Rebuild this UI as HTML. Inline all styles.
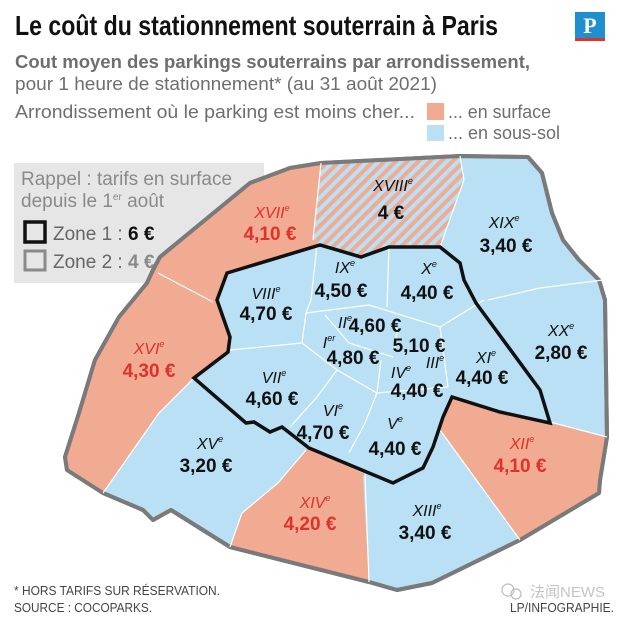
<!DOCTYPE html>
<html><head><meta charset="utf-8">
<style>
html,body{margin:0;padding:0;background:#fff;}
svg{display:block;}
.t{font-family:"Liberation Sans",sans-serif;}
.n{font-family:"Liberation Sans Narrow","Liberation Sans",sans-serif;font-style:italic;font-size:16px;fill:#111;}
.p{font-family:"Liberation Sans Narrow","Liberation Sans",sans-serif;font-weight:bold;font-size:19px;fill:#111;}
.r{fill:#e0312b;}
</style></head>
<body>
<svg width="622" height="620" viewBox="0 0 622 620" xmlns="http://www.w3.org/2000/svg">
<defs>
<pattern id="hatch" width="8" height="8" patternUnits="userSpaceOnUse" patternTransform="rotate(45)">
<rect width="8" height="8" fill="#b9e0f4"/><rect width="4" height="8" fill="#f0ab92"/>
</pattern>
</defs>
<rect width="622" height="620" fill="#fff"/>
<text x="15" y="35" font-family="'Liberation Sans Narrow','Liberation Sans',sans-serif" font-weight="bold" font-size="28" fill="#111" textLength="483" lengthAdjust="spacingAndGlyphs">Le coût du stationnement souterrain à Paris</text>
<g>
<rect x="575" y="12" width="30" height="26" fill="#1f8fcf"/>
<rect x="575" y="38" width="30" height="3" fill="#e0312b"/>
<text x="590" y="33" text-anchor="middle" font-family="'Liberation Serif',serif" font-weight="bold" font-size="22" fill="#fff">P</text>
</g>
<text class="t" x="15" y="68" font-weight="bold" font-size="18" fill="#6e6e6e" textLength="515" lengthAdjust="spacingAndGlyphs">Cout moyen des parkings souterrains par arrondissement,</text>
<text class="t" x="15" y="90" font-size="18" fill="#6e6e6e" textLength="422" lengthAdjust="spacingAndGlyphs">pour 1 heure de stationnement* (au 31 août 2021)</text>
<text class="t" x="15" y="118" font-size="18" fill="#6e6e6e" textLength="400" lengthAdjust="spacingAndGlyphs">Arrondissement où le parking est moins cher...</text>
<g>
<rect x="427" y="103" width="17" height="17" fill="#f0ab92"/>
<text class="t" x="448" y="118" font-size="18" fill="#6e6e6e" textLength="103" lengthAdjust="spacingAndGlyphs">... en surface</text>
</g>
<g>
<rect x="427" y="125" width="17" height="16" fill="#b9e0f4"/>
<text class="t" x="448" y="139" font-size="18" fill="#6e6e6e" textLength="112" lengthAdjust="spacingAndGlyphs">... en sous-sol</text>
</g>

<rect x="14" y="163" width="250" height="120" fill="#e6e6e6"/>

<polygon fill="#b9e0f4" stroke="#7a7a7a" stroke-width="4" stroke-linejoin="round"
points="147,283 153,270 160,257 233,197 250,183 290,168 321,163 460,156 528,157 542,173 552,213 563,240 579,260 599,280 605,300 607,437 600,480 599,493 520,540 432,583 397,590 369,582 230,547 171,510 153,520 143,510 103,493 67,470 65,457 79,413 95,360 119,317"/>
<polygon fill="#f0ab92" points="147,283 153,270 160,257 233,197 250,183 290,168 321,163 313,240 320,245 227,273 217,300 158,273"/>
<polygon fill="#f0ab92" points="147,283 158,273 217,300 230,337 228,352 194,378 159,413 103,493 67,470 65,457 79,413 95,360 119,317"/>
<polygon fill="#f0ab92" points="230,547 242,513 278,483 306,450 309,448 365,474 363,477 369,582"/>
<polygon fill="#f0ab92" points="452,397 500,412 550,422 607,437 600,480 599,493 520,540 440,430 443,417"/>
<polygon fill="url(#hatch)" points="321,163 460,156 464,180 440,247 389,247 361,257 320,245 313,240"/>
<polygon fill="none" stroke="#7a7a7a" stroke-width="4" stroke-linejoin="round"
points="147,283 153,270 160,257 233,197 250,183 290,168 321,163 460,156 528,157 542,173 552,213 563,240 579,260 599,280 605,300 607,437 600,480 599,493 520,540 432,583 397,590 369,582 230,547 171,510 153,520 143,510 103,493 67,470 65,457 79,413 95,360 119,317"/>

<g fill="none" stroke="#fff" stroke-width="1.2">
<polyline points="321,163 313,240"/>
<polyline points="460,156 464,180 440,247"/>
<polyline points="158,273 213,302"/>
<polyline points="194,378 159,413 103,493"/>
<polyline points="306,450 278,483 242,513 230,547"/>
<polyline points="365,474 369,582"/>
<polyline points="440,430 520,540"/>
<polyline points="550,422 607,437"/>
<polyline points="488,300 540,288 603,280"/>
<polyline points="317,245 311,300 306,313 302,343"/>
<polyline points="389,247 387,307"/>
<polyline points="306,313 369,305 440,327 484,300"/>
<polyline points="325,315 349,343 393,357"/>
<polyline points="397,328 395,352"/>
<polyline points="440,327 448,387"/>
<polyline points="230,350 302,343 337,370 377,393 448,387"/>
<polyline points="337,370 317,397 290,427"/>
<polyline points="377,393 365,423 349,453"/>
<polyline points="381,360 377,393"/>
</g>

<polygon fill="none" stroke="#111" stroke-width="3.5" stroke-linejoin="miter"
points="227,273 320,245 361,257 389,247 440,247 460,263 464,280 476,303 540,390 550,423 500,412 452,397 443,417 433,447 423,468 393,483 369,473 309,448 282,427 270,432 254,422 246,423 194,378 228,352 230,337 217,300"/>

<text class="t" x="21" y="185" font-size="19" fill="#8a8a8a" textLength="211" lengthAdjust="spacingAndGlyphs">Rappel : tarifs en surface</text>
<text class="t" x="21" y="207" font-size="19" fill="#8a8a8a">depuis le 1<tspan font-size="10" dy="-7">er</tspan><tspan dy="7"> août</tspan></text>
<g>
<rect x="25" y="222" width="20" height="20" fill="none" stroke="#111" stroke-width="3.5"/>
<text class="t" x="53" y="240" font-size="19" fill="#666">Zone 1 : <tspan font-weight="bold" fill="#111">6 €</tspan></text>
</g>
<g>
<rect x="25" y="251" width="20" height="19" fill="none" stroke="#8a8a8a" stroke-width="3"/>
<text class="t" x="53" y="268" font-size="19" fill="#666">Zone 2 : <tspan font-weight="bold" fill="#8a8a8a">4 €</tspan></text>
</g>

<g text-anchor="middle">
<text class="n" x="393" y="191">XVIII<tspan font-size="9" dy="-7">e</tspan></text><text class="p" x="391" y="219">4 €</text>
<text class="n r" x="272" y="218">XVII<tspan font-size="9" dy="-7">e</tspan></text><text class="p r" x="270" y="240">4,10 €</text>
<text class="n" x="504" y="228">XIX<tspan font-size="9" dy="-7">e</tspan></text><text class="p" x="506" y="252">3,40 €</text>
<text class="n" x="345" y="273">IX<tspan font-size="9" dy="-7">e</tspan></text><text class="p" x="341" y="297">4,50 €</text>
<text class="n" x="429" y="274">X<tspan font-size="9" dy="-7">e</tspan></text><text class="p" x="427" y="299">4,40 €</text>
<text class="n" x="266" y="299">VIII<tspan font-size="9" dy="-7">e</tspan></text><text class="p" x="266" y="320">4,70 €</text>
<text class="n" x="345" y="328">II<tspan font-size="9" dy="-7">e</tspan></text><text class="p" x="375" y="332">4,60 €</text>
<text class="n" x="329" y="348">I<tspan font-size="9" dy="-7">er</tspan></text><text class="p" x="353" y="364">4,80 €</text>
<text class="p" x="419" y="352">5,10 €</text>
<text class="n" x="435" y="368">III<tspan font-size="9" dy="-7">e</tspan></text>
<text class="n" x="561" y="336">XX<tspan font-size="9" dy="-7">e</tspan></text><text class="p" x="561" y="359">2,80 €</text>
<text class="n" x="486" y="363">XI<tspan font-size="9" dy="-7">e</tspan></text><text class="p" x="482" y="384">4,40 €</text>
<text class="n r" x="149" y="354">XVI<tspan font-size="9" dy="-7">e</tspan></text><text class="p r" x="149" y="377">4,30 €</text>
<text class="n" x="274" y="383">VII<tspan font-size="9" dy="-7">e</tspan></text><text class="p" x="272" y="405">4,60 €</text>
<text class="n" x="401" y="378">IV<tspan font-size="9" dy="-7">e</tspan></text><text class="p" x="417" y="397">4,40 €</text>
<text class="n" x="333" y="416">VI<tspan font-size="9" dy="-7">e</tspan></text><text class="p" x="323" y="439">4,70 €</text>
<text class="n" x="395" y="429">V<tspan font-size="9" dy="-7">e</tspan></text><text class="p" x="395" y="455">4,40 €</text>
<text class="n" x="210" y="449">XV<tspan font-size="9" dy="-7">e</tspan></text><text class="p" x="206" y="472">3,20 €</text>
<text class="n r" x="522" y="449">XII<tspan font-size="9" dy="-7">e</tspan></text><text class="p r" x="520" y="472">4,10 €</text>
<text class="n r" x="315" y="508">XIV<tspan font-size="9" dy="-7">e</tspan></text><text class="p r" x="310" y="530">4,20 €</text>
<text class="n" x="427" y="516">XIII<tspan font-size="9" dy="-7">e</tspan></text><text class="p" x="425" y="539">3,40 €</text>
</g>

<text font-family="'Liberation Sans Narrow','Liberation Sans',sans-serif" x="14" y="595" font-size="13" fill="#444" textLength="206" lengthAdjust="spacingAndGlyphs">* HORS TARIFS SUR RÉSERVATION.</text>
<text font-family="'Liberation Sans Narrow','Liberation Sans',sans-serif" x="14" y="612" font-size="13" fill="#444" textLength="138" lengthAdjust="spacingAndGlyphs">SOURCE : COCOPARKS.</text>
<g>
<circle cx="508" cy="590" r="6" fill="none" stroke="#bbb" stroke-width="1.2"/>
<circle cx="516" cy="594" r="5" fill="none" stroke="#bbb" stroke-width="1.2"/>
<text x="530" y="597" font-family="'Liberation Sans','Noto Sans CJK SC',sans-serif" font-size="15" fill="#c4c4c4">法闻NEWS</text>
</g>
<text font-family="'Liberation Sans Narrow','Liberation Sans',sans-serif" x="614" y="612" text-anchor="end" font-size="13" fill="#444" textLength="104" lengthAdjust="spacingAndGlyphs">LP/INFOGRAPHIE.</text>
</svg>
</body></html>
